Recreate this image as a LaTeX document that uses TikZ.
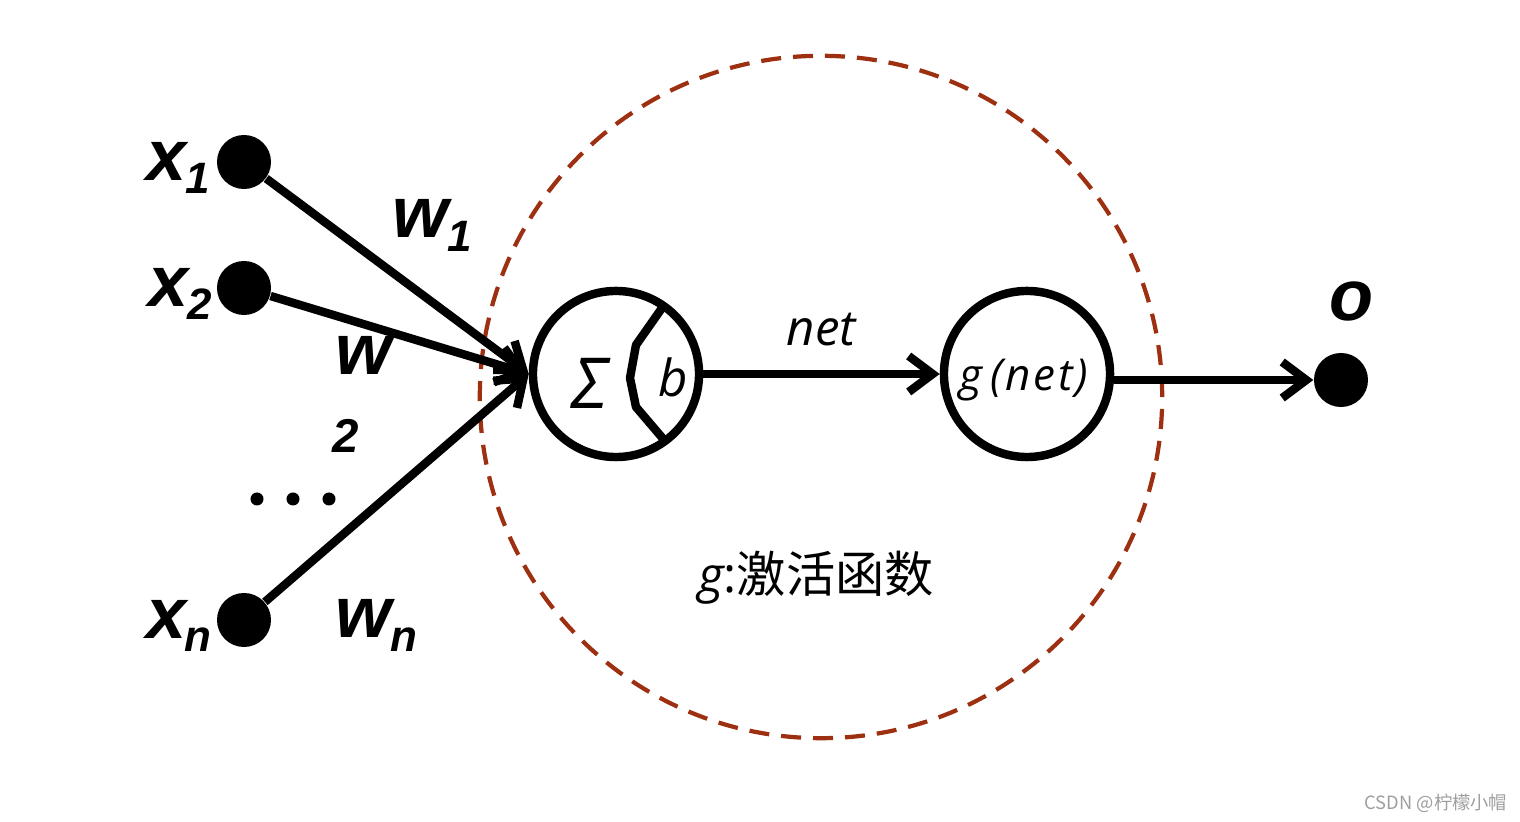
\documentclass[tikz,border=0pt]{standalone}
\usepackage{fontspec}
\setmainfont{Liberation Sans}
\newfontfamily\osans{Open Sans}
\newfontfamily\cjk{Noto Sans CJK SC}
\usetikzlibrary{arrows.meta, positioning}
\definecolor{rust}{RGB}{158,48,18}
\newcommand{\varlab}[2]{\fontsize{20.5}{21}\selectfont\bfseries\itshape #1\kern-0.5pt\raisebox{-3.8pt}{\fontsize{12.5}{13}\selectfont #2}}

\begin{document}
\begin{tikzpicture}[x=0.01cm, y=-0.01cm,
    dot/.style={circle, fill, inner sep=0, minimum size=0.54cm},
    neuron/.style={circle, draw, line width=2.4pt, inner sep=0, minimum size=1.66cm},
    sig/.style={line width=2.4pt, -{Straight Barb[length=2.4mm, width=3.6mm]}},
    lbl/.style={inner sep=0, anchor=base west}]
    \useasboundingbox (0,0) rectangle (1520,822);

    % Activation region
    \draw[rust, line width=1.2pt, dash pattern=on 5.7pt off 3.4pt] (821,397) circle (3.41cm);

    % Inputs
    \node[dot] (x1) at (244,162) {};
    \node[dot] (x2) at (244,288) {};
    \node[dot] (xn) at (244,620) {};
    \node[inner sep=0, left=0.06cm of x1, yshift=-0.06cm] {\varlab{x}{1}};
    \node[inner sep=0, left=0.04cm of x2, yshift=-0.06cm] {\varlab{x}{2}};
    \node[inner sep=0, left=0.04cm of xn, yshift=-0.06cm] {\varlab{x}{n}};
    \foreach \dx in {257,293,329}
      \fill (\dx,499) circle (0.065cm);

    % Neurons
    \node[neuron] (sum) at (616,374) {};
    \node[neuron] (gnet) at (1027,374) {};
    \draw[line width=2.4pt, line join=round] (662,308) -- (636,345) -- (630,378) -- (636,407) -- (665,441);
    \node[inner sep=0] (sigma) at (590,383) {\osans\itshape\fontsize{20}{20}\selectfont Σ};
    \node[inner sep=0] (bias) at (673,377) {\osans\itshape\fontsize{14.5}{15}\selectfont b};
    \node[inner sep=0] (gtext) at (1024,380) {\osans\itshape\fontsize{12.5}{13}\selectfont g\,(\kern0.8pt n\kern0.8pt e\kern0.8pt t\kern0.8pt)};

    % Output
    \node[dot] (out) at (1341,380) {};
    \node[inner sep=0, above=0.3cm of out, xshift=0.11cm] {\fontsize{20.5}{21}\selectfont\bfseries\itshape o};

    % Weights
    \node[lbl] (w1) at (392,238) {\varlab{w}{1}};
    \node[lbl] (w2) at (335,375) {\fontsize{20.5}{21}\selectfont\bfseries\itshape w};
    \node[lbl] (w2sub) at (332,453) {\fontsize{13.5}{14}\selectfont\bfseries\itshape 2};
    \node[lbl] (wn) at (335,638) {\varlab{w}{n}};

    % Connections
    \draw[sig] (x1) -- (sum.west);
    \draw[sig] (x2) -- (sum.west);
    \draw[sig] (xn) -- (sum.west);
    \draw[sig] (sum) -- node[midway, above=0.24cm, inner sep=0] {\osans\itshape\fontsize{14}{14}\selectfont net} (gnet);
    \draw[sig] (gnet.east |- out) -- (out);

    % Caption
    \node[inner sep=0] (cap) at (816,578) {\fontsize{14}{14}\selectfont{\osans\itshape g}{\osans:}\cjk 激活函数};
    \node[inner sep=0, text=black!38] (mark) at (1436,803) {\cjk\fontsize{5.2}{6}\selectfont CSDN @柠檬小帽};
\end{tikzpicture}
\end{document}
